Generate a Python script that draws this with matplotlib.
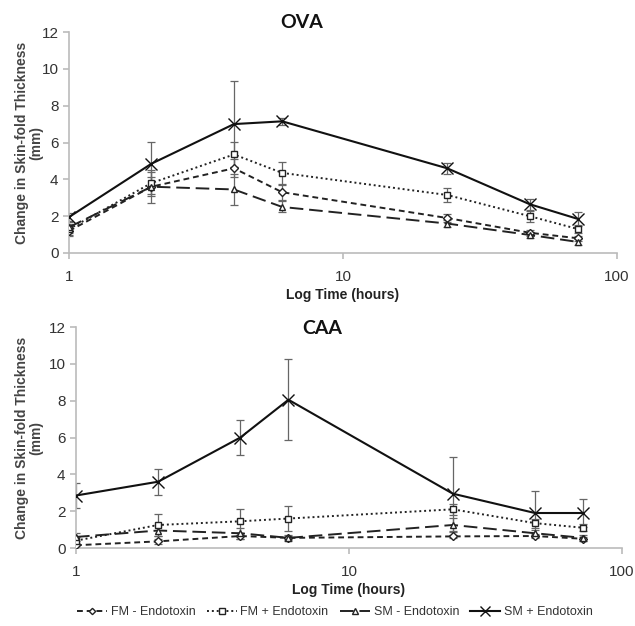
import numpy as np
import matplotlib
matplotlib.use("Agg")
from matplotlib import pyplot as plt

plt.rcParams["font.family"] = ["Liberation Sans", "DejaVu Sans"]

hours = [1, 2, 4, 6, 24, 48, 72]

# OVA panel
ova_fm_minus = [1.2, 3.6, 4.6, 3.3, 1.9, 1.1, 0.8]
ova_fm_minus_err = [0.3, 0.5, 0.5, 0.4, 0.2, 0.15, 0.15]
ova_fm_plus = [1.3, 3.8, 5.35, 4.35, 3.15, 2.0, 1.3]
ova_fm_plus_err = [0.3, 0.6, 0.7, 0.6, 0.4, 0.3, 0.2]
ova_sm_minus = [1.4, 3.6, 3.45, 2.5, 1.6, 0.98, 0.6]
ova_sm_minus_err = [0.3, 0.9, 0.85, 0.3, 0.2, 0.15, 0.15]
ova_sm_plus = [1.95, 4.85, 7.0, 7.15, 4.6, 2.65, 1.85]
ova_sm_plus_err = [0.2, 1.2, 2.35, 0.2, 0.3, 0.3, 0.4]

# CAA panel
caa_fm_minus = [0.15, 0.36, 0.65, 0.55, 0.63, 0.65, 0.5]
caa_fm_minus_err = [0.1, 0.15, 0.15, 0.1, 0.1, 0.1, 0.1]
caa_fm_plus = [0.4, 1.25, 1.45, 1.6, 2.1, 1.35, 1.1]
caa_fm_plus_err = [0.2, 0.6, 0.65, 0.7, 0.3, 0.25, 0.2]
caa_sm_minus = [0.6, 0.95, 0.8, 0.55, 1.25, 0.8, 0.55]
caa_sm_minus_err = [0.2, 0.3, 0.3, 0.15, 0.4, 0.2, 0.15]
caa_sm_plus = [2.85, 3.6, 6.0, 8.05, 2.95, 1.9, 1.9]
caa_sm_plus_err = [0.7, 0.7, 0.95, 2.2, 2.0, 1.2, 0.75]

labels = ["FM - Endotoxin", "FM + Endotoxin", "SM - Endotoxin", "SM + Endotoxin"]

styles = [
    dict(ls=(0, (3, 2)), marker="D", ms=4, mfc="white", color="#222222", lw=1.4),
    dict(ls=(0, (1, 1.5)), marker="s", ms=5, mfc="white", color="#222222", lw=1.4),
    dict(ls=(0, (7, 3)), marker="^", ms=5, mfc="white", color="#222222", lw=1.4),
    dict(ls="-", marker="x", ms=9, color="#111111", lw=1.5),
]

fig = plt.figure(figsize=(6.35, 6.26), dpi=100)
ax1 = fig.add_axes([69/635, 1-253/626, 548/635, 221/626])
ax2 = fig.add_axes([76/635, 1-548/626, 546/635, 221/626])

panels = [
    (ax1, "OVA", [ova_fm_minus, ova_fm_plus, ova_sm_minus, ova_sm_plus],
     [ova_fm_minus_err, ova_fm_plus_err, ova_sm_minus_err, ova_sm_plus_err]),
    (ax2, "CAA", [caa_fm_minus, caa_fm_plus, caa_sm_minus, caa_sm_plus],
     [caa_fm_minus_err, caa_fm_plus_err, caa_sm_minus_err, caa_sm_plus_err]),
]

handles = []
for ax, title, vals, errs in panels:
    for v, e, st, lab in zip(vals, errs, styles, labels):
        ax.errorbar(hours, v, yerr=e, fmt="none", ecolor="#666666", elinewidth=0.9,
                    capsize=3, capthick=0.9, zorder=2)
        h, = ax.plot(hours, v, label=lab, zorder=3, **st)
        if ax is ax1:
            handles.append(h)
    ax.set_xscale("log")
    ax.set_xlim(1, 100)
    ax.set_ylim(0, 12)
    ax.set_yticks([0, 2, 4, 6, 8, 10, 12])
    ax.set_xticks([1, 10, 100])
    ax.set_xticklabels(["1", "10", "100"])
    ax.xaxis.set_minor_locator(matplotlib.ticker.NullLocator())
    for s in ["top", "right"]:
        ax.spines[s].set_visible(False)
    for s in ["left", "bottom"]:
        ax.spines[s].set_color("#bbbbbb")
        ax.spines[s].set_linewidth(1.2)
    ax.tick_params(colors="#bbbbbb", labelcolor="#333333", labelsize=11, length=4, width=1.2)
    ax.tick_params(axis="x", pad=8)
    ax.set_ylabel("Change in Skin-fold Thickness\n(mm)", fontsize=10, fontweight="bold",
                  color="#444444", linespacing=1.0)
    ax.set_xlabel("Log Time (hours)", fontsize=10, fontweight="bold", color="#222222", labelpad=3)

ax1.yaxis.set_label_coords(-0.047, 0.5)
ax2.yaxis.set_label_coords(-0.06, 0.5)

fig.text(302/635, 1-23/626, "OVA", fontsize=14, fontweight="bold", family=["Lato", "DejaVu Sans"],
         ha="center", va="center", color="#111111")
fig.text(322/635, 1-328/626, "CAA", fontsize=14, fontweight="bold", family=["Lato", "DejaVu Sans"],
         ha="center", va="center", color="#111111")

fig.legend(handles=handles, loc="center", bbox_to_anchor=(335/635, 1-612/626), ncol=4,
           frameon=False, fontsize=9, handlelength=2.4, columnspacing=0.9, handletextpad=0.3,
           markerscale=0.8, labelcolor="#333333")

fig.savefig("out.png", dpi=100, facecolor="white")
